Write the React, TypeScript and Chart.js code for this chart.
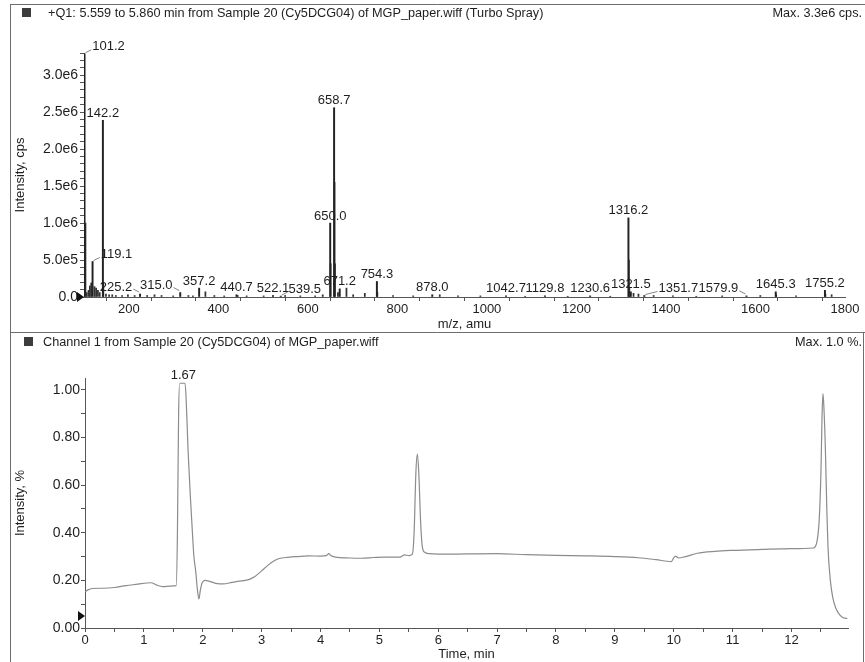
import React, { useEffect, useRef } from "react";
import { Chart, registerables } from "chart.js";

Chart.register(...registerables);

const FONT = '"Liberation Sans", Arial, Helvetica, sans-serif';

// ---------- Top panel: mass spectrum ----------
const TOP_TITLE = "+Q1: 5.559 to 5.860 min from Sample 20 (Cy5DCG04) of MGP_paper.wiff (Turbo Spray)";
const TOP_MAX = "Max. 3.3e6 cps.";
const MZ_X_TITLE = "m/z, amu";
const MZ_Y_TITLE = "Intensity, cps";

// labelled peaks
const PEAK_MZ = [101.2, 119.1, 142.2, 225.2, 315.0, 357.2, 440.7, 522.1, 539.5, 650.0, 658.7, 671.2, 754.3, 878.0, 1042.7, 1129.8, 1230.6, 1316.2, 1321.5, 1351.7, 1579.9, 1645.3, 1755.2];
const PEAK_INT = [3.29e6, 0.48e6, 2.39e6, 0.04e6, 0.06e6, 0.12e6, 0.03e6, 0.02e6, 0.012e6, 1.0e6, 2.56e6, 0.11e6, 0.21e6, 0.03e6, 0.015e6, 0.015e6, 0.015e6, 1.07e6, 0.07e6, 0.02e6, 0.015e6, 0.07e6, 0.09e6];

// unlabelled minor peaks
const MINOR_MZ = [103.2, 106.1, 110.1, 113.1, 116.1, 123.5, 127.1, 131.1, 135.1, 143.2, 149.1, 156.1, 163.1, 171.1, 185.1, 198.1, 213.1, 241.1, 257.5, 273.2, 299.2, 333.2, 343.2, 371.2, 391.2, 413.2, 443.3, 463.3, 501.3, 549.3, 583.3, 616.3, 633.3, 651.0, 659.7, 660.7, 667.3, 686.3, 701.3, 727.3, 755.3, 790.3, 835.4, 894.7, 935.4, 985.5, 1085.5, 1180.6, 1275.6, 1317.2, 1318.2, 1327.6, 1338.6, 1372.6, 1415.6, 1467.7, 1525.7, 1610.8, 1646.3, 1690.8, 1756.2, 1770.1];
const MINOR_INT = [1.0e6, 0.06e6, 0.09e6, 0.15e6, 0.19e6, 0.14e6, 0.12e6, 0.09e6, 0.06e6, 0.2e6, 0.04e6, 0.03e6, 0.03e6, 0.02e6, 0.02e6, 0.03e6, 0.02e6, 0.02e6, 0.03e6, 0.02e6, 0.015e6, 0.02e6, 0.015e6, 0.07e6, 0.02e6, 0.015e6, 0.02e6, 0.015e6, 0.015e6, 0.02e6, 0.015e6, 0.015e6, 0.03e6, 0.45e6, 1.55e6, 0.45e6, 0.06e6, 0.12e6, 0.03e6, 0.05e6, 0.06e6, 0.02e6, 0.015e6, 0.03e6, 0.015e6, 0.015e6, 0.01e6, 0.01e6, 0.01e6, 0.5e6, 0.12e6, 0.05e6, 0.04e6, 0.02e6, 0.015e6, 0.01e6, 0.015e6, 0.02e6, 0.03e6, 0.015e6, 0.04e6, 0.03e6];

const MZ_MIN = 100;
const MZ_MAX = 1800;
const INT_MAX = 3.3e6;

// ---------- Bottom panel: chromatogram ----------
const BOT_TITLE = "Channel 1 from Sample 20 (Cy5DCG04) of MGP_paper.wiff";
const BOT_MAX = "Max. 1.0 %.";
const T_X_TITLE = "Time, min";
const T_Y_TITLE = "Intensity, %";

const TIME = [0.0, 0.05, 0.12, 0.3, 0.5, 0.7, 0.9, 1.05, 1.12, 1.22, 1.32, 1.45, 1.55, 1.57, 1.59, 1.61, 1.7, 1.72, 1.75, 1.79, 1.82, 1.85, 1.88, 1.91, 1.935, 1.96, 1.99, 2.04, 2.12, 2.25, 2.35, 2.5, 2.65, 2.78, 2.88, 3.0, 3.1, 3.2, 3.3, 3.45, 3.6, 3.8, 4.0, 4.1, 4.14, 4.18, 4.25, 4.5, 4.7, 4.9, 5.1, 5.35, 5.43, 5.5, 5.56, 5.59, 5.62, 5.645, 5.67, 5.7, 5.73, 5.77, 5.85, 6.0, 6.5, 7.0, 7.5, 8.0, 8.5, 9.0, 9.4, 9.7, 9.96, 10.0, 10.03, 10.08, 10.2, 10.4, 10.7, 11.0, 11.5, 12.0, 12.37, 12.43, 12.47, 12.5, 12.52, 12.535, 12.55, 12.575, 12.6, 12.62, 12.66, 12.7, 12.75, 12.82, 12.88, 12.95];
const SIGNAL = [0.152, 0.16, 0.166, 0.167, 0.17, 0.178, 0.184, 0.189, 0.19, 0.18, 0.174, 0.176, 0.178, 0.4, 0.9, 1.028, 1.028, 0.95, 0.75, 0.55, 0.42, 0.3, 0.24, 0.16, 0.122, 0.16, 0.19, 0.2, 0.196, 0.186, 0.185, 0.192, 0.198, 0.203, 0.215, 0.24, 0.262, 0.28, 0.292, 0.297, 0.3, 0.303, 0.302, 0.304, 0.312, 0.303, 0.298, 0.294, 0.293, 0.296, 0.298, 0.298, 0.307, 0.304, 0.31, 0.4, 0.65, 0.73, 0.65, 0.45, 0.34, 0.318, 0.312, 0.31, 0.311, 0.312, 0.308, 0.305, 0.303, 0.3, 0.295, 0.287, 0.279, 0.295, 0.302, 0.294, 0.3, 0.314, 0.322, 0.326, 0.33, 0.333, 0.336, 0.36, 0.45, 0.65, 0.9, 0.985, 0.93, 0.76, 0.5, 0.34, 0.2, 0.13, 0.085, 0.055, 0.043, 0.04];
const PEAK_TIME_LABEL = 1.67;
const PEAK_TIME_VALUE = 1.028;

const T_MIN = 0;
const T_MAX = 12.96;
const SIG_MAX = 1.05;

// ---------- styling (not data) ----------
const LABEL_SHIFT: Record<string, number> = {
  "101.2": 24,
  "119.1": 24,
  "225.2": -24,
  "315.0": -24,
  "539.5": 24,
  "1351.7": 34,
  "1579.9": -28,
};
const AXIS_COLOR = "#555";
const TEXT_COLOR = "#1e1e1e";

function sciLabel(v: number): string {
  if (Math.abs(v) < 1) return "0.0";
  const e = Math.floor(Math.log10(v) + 1e-9);
  const m = v / Math.pow(10, e);
  return `${m.toFixed(1)}e${e}`;
}

function framePlugin(o: {
  id: string;
  lines: number[][];
  square: number[];
  title: string;
  titleX: number;
  max: string;
  textY: number;
  markerValue: number;
}) {
  return {
    id: o.id,
    afterDraw(chart: any) {
      const ctx = chart.ctx as CanvasRenderingContext2D;
      ctx.save();
      ctx.strokeStyle = "#6e6e6e";
      ctx.lineWidth = 1;
      o.lines.forEach(([x1, y1, x2, y2]) => {
        ctx.beginPath();
        ctx.moveTo(x1, y1);
        ctx.lineTo(x2, y2);
        ctx.stroke();
      });
      ctx.fillStyle = "#3c3c3c";
      ctx.fillRect(o.square[0], o.square[1], o.square[2], o.square[3]);
      ctx.font = `12.7px ${FONT}`;
      ctx.fillStyle = TEXT_COLOR;
      ctx.textBaseline = "middle";
      ctx.textAlign = "left";
      ctx.fillText(o.title, o.titleX, o.textY);
      ctx.textAlign = "right";
      ctx.fillText(o.max, 862, o.textY);
      const y = chart.scales.y.getPixelForValue(o.markerValue);
      const x = chart.chartArea.left;
      ctx.beginPath();
      ctx.moveTo(x, y);
      ctx.lineTo(x - 7, y - 5);
      ctx.lineTo(x - 7, y + 5);
      ctx.closePath();
      ctx.fillStyle = "#111";
      ctx.fill();
      ctx.restore();
    },
  };
}

const spectrumLabels = {
  id: "specLabels",
  afterDatasetsDraw(chart: any) {
    const ctx = chart.ctx as CanvasRenderingContext2D;
    const xs = chart.scales.x;
    const ys = chart.scales.y;
    ctx.save();
    ctx.font = `13px ${FONT}`;
    ctx.fillStyle = TEXT_COLOR;
    ctx.strokeStyle = "#666";
    ctx.lineWidth = 0.8;
    ctx.textAlign = "center";
    ctx.textBaseline = "middle";
    PEAK_MZ.forEach((m, i) => {
      const px = xs.getPixelForValue(m);
      const py = ys.getPixelForValue(PEAK_INT[i]);
      const text = m.toFixed(1);
      const dx = LABEL_SHIFT[text] ?? 0;
      const lx = px + dx;
      const ly = py - 7;
      ctx.fillText(text, lx, ly);
      if (dx !== 0) {
        const w = ctx.measureText(text).width;
        ctx.beginPath();
        if (dx > 0) {
          ctx.moveTo(px + 1, py - 1);
          ctx.lineTo(lx - w / 2 - 1, ly + 3);
        } else {
          ctx.moveTo(lx + w / 2 + 1, ly + 2);
          ctx.lineTo(px - 1, py - 2);
        }
        ctx.stroke();
      }
    });
    ctx.restore();
  },
};

const chromLabel = {
  id: "chromLabel",
  afterDatasetsDraw(chart: any) {
    const ctx = chart.ctx as CanvasRenderingContext2D;
    const px = chart.scales.x.getPixelForValue(PEAK_TIME_LABEL);
    const py = chart.scales.y.getPixelForValue(PEAK_TIME_VALUE);
    ctx.save();
    ctx.font = `13px ${FONT}`;
    ctx.fillStyle = TEXT_COLOR;
    ctx.textAlign = "center";
    ctx.textBaseline = "middle";
    ctx.fillText(PEAK_TIME_LABEL.toFixed(2), px, py - 8);
    ctx.restore();
  },
};

function axisCommon() {
  return {
    grid: { drawOnChartArea: false, drawTicks: true, tickLength: 4, color: AXIS_COLOR },
    border: { display: true, color: AXIS_COLOR, width: 1 },
  };
}

export default function App() {
  const topRef = useRef<HTMLCanvasElement>(null);
  const botRef = useRef<HTMLCanvasElement>(null);

  useEffect(() => {
    const tickFontX = { family: FONT, size: 13 };
    const tickFontY = { family: FONT, size: 14 };
    const titleFont = { family: FONT, size: 13 };

    const top = new Chart(topRef.current as HTMLCanvasElement, {
      type: "bar",
      data: {
        datasets: [
          {
            data: PEAK_MZ.map((m, i) => ({ x: m, y: PEAK_INT[i] })),
            backgroundColor: "#222",
            barThickness: 1.3,
            grouped: false,
          } as any,
          {
            data: MINOR_MZ.map((m, i) => ({ x: m, y: MINOR_INT[i] })),
            backgroundColor: "#333",
            barThickness: 1.1,
            grouped: false,
          } as any,
        ],
      },
      options: {
        animation: false,
        responsive: false,
        events: [],
        layout: { padding: { top: 53, right: 20, left: 0, bottom: 0 } },
        plugins: { legend: { display: false }, tooltip: { enabled: false } },
        scales: {
          x: {
            type: "linear",
            min: MZ_MIN,
            max: MZ_MAX,
            offset: false,
            ...axisCommon(),
            ticks: {
              stepSize: 100,
              autoSkip: false,
              maxRotation: 0,
              includeBounds: false,
              padding: 1,
              color: TEXT_COLOR,
              font: tickFontX,
              callback: (v: any) => (Math.round(v) % 200 === 0 ? String(Math.round(v)) : ""),
            },
            title: { display: true, text: MZ_X_TITLE, color: TEXT_COLOR, font: titleFont, padding: { top: 0, bottom: 0 } },
            afterFit: (s: any) => {
              s.height = 35;
            },
          },
          y: {
            min: 0,
            max: INT_MAX,
            ...axisCommon(),
            ticks: {
              stepSize: 1e5,
              autoSkip: false,
              includeBounds: false,
              padding: 2,
              color: TEXT_COLOR,
              font: tickFontY,
              callback: (v: any) => (Math.round(v / 1e5) % 5 === 0 ? sciLabel(v) : ""),
            },
            title: { display: true, text: MZ_Y_TITLE, color: TEXT_COLOR, font: titleFont, padding: { top: 13, bottom: 0 } },
            afterFit: (s: any) => {
              s.width = 84;
            },
          },
        },
      } as any,
      plugins: [
        spectrumLabels,
        framePlugin({
          id: "frameTop",
          lines: [
            [10, 4.5, 865, 4.5],
            [10.5, 4, 10.5, 332],
          ],
          square: [22, 8, 9, 9],
          title: TOP_TITLE,
          titleX: 48,
          max: TOP_MAX,
          textY: 13,
          markerValue: 0,
        }),
      ],
    });

    const bot = new Chart(botRef.current as HTMLCanvasElement, {
      type: "line",
      data: {
        datasets: [
          {
            data: TIME.map((t, i) => ({ x: t, y: SIGNAL[i] })),
            borderColor: "#8c8c8c",
            borderWidth: 1.2,
            pointRadius: 0,
            fill: false,
            cubicInterpolationMode: "monotone",
          } as any,
        ],
      },
      options: {
        animation: false,
        responsive: false,
        events: [],
        layout: { padding: { top: 46, right: 17, left: 0, bottom: 0 } },
        plugins: { legend: { display: false }, tooltip: { enabled: false } },
        scales: {
          x: {
            type: "linear",
            min: T_MIN,
            max: T_MAX,
            ...axisCommon(),
            ticks: {
              stepSize: 0.5,
              autoSkip: false,
              maxRotation: 0,
              includeBounds: false,
              padding: 1,
              color: TEXT_COLOR,
              font: tickFontX,
              callback: (v: any) => (Math.abs(v - Math.round(v)) < 1e-6 ? String(Math.round(v)) : ""),
            },
            title: { display: true, text: T_X_TITLE, color: TEXT_COLOR, font: titleFont, padding: { top: 0, bottom: 0 } },
            afterFit: (s: any) => {
              s.height = 34;
            },
          },
          y: {
            min: 0,
            max: SIG_MAX,
            ...axisCommon(),
            ticks: {
              stepSize: 0.1,
              autoSkip: false,
              includeBounds: false,
              padding: 1,
              color: TEXT_COLOR,
              font: tickFontY,
              callback: (v: any) => (Math.round(v * 10) % 2 === 0 ? Number(v).toFixed(2) : ""),
            },
            title: { display: true, text: T_Y_TITLE, color: TEXT_COLOR, font: titleFont, padding: { top: 13, bottom: 0 } },
            afterFit: (s: any) => {
              s.width = 85;
            },
          },
        },
      } as any,
      plugins: [
        chromLabel,
        framePlugin({
          id: "frameBot",
          lines: [
            [10, 0.5, 865, 0.5],
            [10.5, 0, 10.5, 330],
            [863.5, 0, 863.5, 330],
          ],
          square: [24, 5, 9, 9],
          title: BOT_TITLE,
          titleX: 43,
          max: BOT_MAX,
          textY: 10,
          markerValue: 0.05,
        }),
      ],
    });

    return () => {
      top.destroy();
      bot.destroy();
    };
  }, []);

  return (
    <div style={{ position: "absolute", left: 0, top: 0, width: 865, height: 662, background: "#fff" }}>
      <canvas ref={topRef} width={865} height={332} style={{ position: "absolute", left: 0, top: 0, width: 865, height: 332 }} />
      <canvas ref={botRef} width={865} height={330} style={{ position: "absolute", left: 0, top: 332, width: 865, height: 330 }} />
    </div>
  );
}
